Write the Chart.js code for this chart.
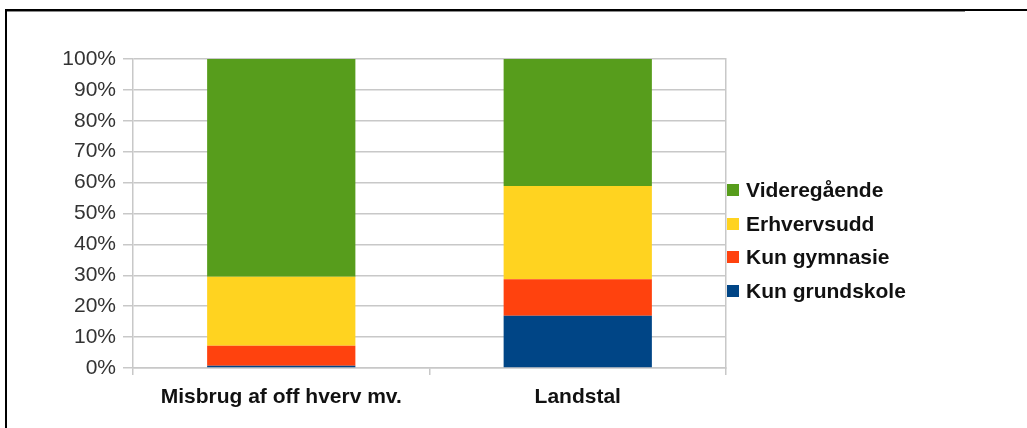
<!DOCTYPE html>
<html>
<head>
<meta charset="utf-8">
<script src="https://cdn.jsdelivr.net/npm/chart.js@4"></script>
<style>
  html, body { margin: 0; padding: 0; background: #fff; }
  body { width: 1027px; height: 428px; position: relative; overflow: hidden; font-family: "Liberation Sans", Arial, sans-serif; }
  #frame { position: absolute; left: 5px; top: 9px; right: -4px; bottom: -4px; border-top: 2px solid #000; border-left: 2px solid #000; }
  #frameShade { position: absolute; left: 7px; top: 11px; width: 958px; height: 1px; background: #8a8a8a; }
  #wrap { position: absolute; left: 0; top: 0; width: 1027px; height: 428px; }
  #legend { position: absolute; left: 727px; top: 173px; margin: 0; padding: 0; list-style: none; }
  #legend li { height: 33.7px; display: flex; align-items: center; font-weight: bold; font-size: 21px; color: #111; }
  #legend span { display: inline-block; width: 12px; height: 12px; margin-right: 7px; }
</style>
</head>
<body>
<div id="frame"></div>
<div id="frameShade"></div>
<div id="wrap"><canvas id="eduChart" width="1027" height="428"></canvas></div>
<ul id="legend"></ul>
<script>
const categories = ['Misbrug af off hverv mv.', 'Landstal'];
const seriesNames = ['Kun grundskole', 'Kun gymnasie', 'Erhvervsudd', 'Videregående'];
const grundskole = [0.7, 16.9];
const gymnasie = [6.5, 11.8];
const erhvervsudd = [22.3, 30.2];
const videregaaende = [70.5, 41.1];
const seriesColors = ['#004586', '#ff420e', '#ffd320', '#579d1c'];
const yTicks = [0, 10, 20, 30, 40, 50, 60, 70, 80, 90, 100];

const seriesValues = [grundskole, gymnasie, erhvervsudd, videregaaende];
const gridGrey = '#c8c8c8';

function renderEduChart() {
    const ctx = document.getElementById('eduChart').getContext('2d');

    new Chart(ctx, {
        type: 'bar',
        data: {
            labels: categories,
            datasets: seriesNames.map((name, index) => ({
                label: name,
                data: seriesValues[index],
                backgroundColor: seriesColors[index],
                borderWidth: 0,
                categoryPercentage: 1,
                barPercentage: 0.5
            }))
        },
        options: {
            responsive: false,
            animation: false,
            layout: { padding: { left: 0, top: 59, right: 301, bottom: 0 } },
            plugins: {
                legend: { display: false },
                tooltip: { enabled: false }
            },
            scales: {
                x: {
                    stacked: true,
                    afterFit: axis => { axis.height = 60; },
                    grid: {
                        offset: true,
                        drawOnChartArea: false,
                        tickLength: 7,
                        lineWidth: 1.5,
                        color: gridGrey
                    },
                    border: { color: gridGrey, width: 1.5 },
                    ticks: {
                        maxRotation: 0,
                        padding: 10,
                        color: '#111',
                        font: { family: '"Liberation Sans", Arial, sans-serif', size: 21, weight: 'bold' }
                    }
                },
                y: {
                    stacked: true,
                    min: 0,
                    max: 100,
                    afterBuildTicks: axis => {
                        axis.ticks = yTicks.map(v => ({ value: v }));
                    },
                    afterFit: axis => { axis.width = 133; },
                    grid: { color: gridGrey, lineWidth: 1.5, tickLength: 10 },
                    border: { color: gridGrey, width: 1.5 },
                    ticks: {
                        padding: 7,
                        color: '#333',
                        font: { family: '"Liberation Sans", Arial, sans-serif', size: 21 },
                        callback: v => v + '%'
                    }
                },
                yRight: {
                    position: 'right',
                    min: 0,
                    max: 100,
                    afterFit: axis => { axis.width = 0; },
                    grid: { display: false, drawTicks: false },
                    border: { display: true, color: gridGrey, width: 1.5 },
                    ticks: { display: false }
                }
            }
        }
    });

    // legend listed top-down in the reverse of the stacking order
    const legend = document.getElementById('legend');
    seriesNames.slice().reverse().forEach((name, k) => {
        const idx = seriesNames.length - 1 - k;
        const li = document.createElement('li');
        const box = document.createElement('span');
        box.style.background = seriesColors[idx];
        li.appendChild(box);
        li.appendChild(document.createTextNode(name));
        legend.appendChild(li);
    });
}

renderEduChart();
</script>
</body>
</html>
